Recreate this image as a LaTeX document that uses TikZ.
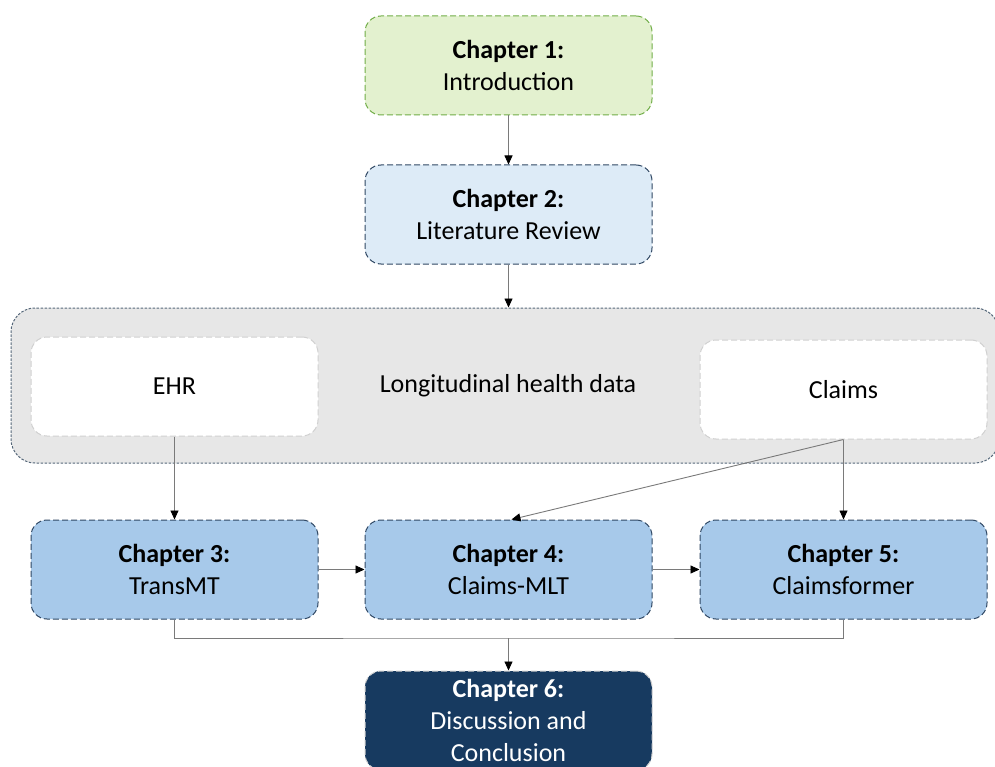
\documentclass[tikz,border=0pt]{standalone}
\usepackage{fontspec}
\setmainfont{Carlito}
\usetikzlibrary{arrows.meta}
\definecolor{greenfill}{HTML}{E3F1CF}
\definecolor{greenline}{HTML}{70AD47}
\definecolor{lightblue}{HTML}{DDEBF7}
\definecolor{midblue}{HTML}{A7C9EA}
\definecolor{navy}{HTML}{173A60}
\definecolor{navyline}{HTML}{2F4763}
\definecolor{grayfill}{HTML}{E7E7E7}
\definecolor{grayline}{HTML}{56687A}
\definecolor{wline}{HTML}{D0D0D0}
\definecolor{conn}{HTML}{7A7A7A}
\tikzset{
  chapbox/.style={rectangle, rounded corners=16pt, minimum width=287pt, minimum height=99pt,
    draw=navyline, line width=1pt, dash pattern=on 6pt off 3pt, align=center,
    font=\fontsize{26}{32}\selectfont, inner sep=0pt},
  srcbox/.style={rectangle, rounded corners=16pt, minimum width=287pt, minimum height=99pt,
    fill=white, draw=wline, line width=1pt, dash pattern=on 6pt off 3pt, align=center,
    font=\fontsize{26}{32}\selectfont, inner sep=0pt},
  conn/.style={draw=conn, line width=0.9pt, -{Triangle[length=9pt,width=8pt,color=black]}},
  plain/.style={draw=conn, line width=0.9pt}
}
\begin{document}
\begin{tikzpicture}[x=1pt,y=-1pt]
\useasboundingbox (0,0) rectangle (995,767);
% container (extends slightly past the right edge, as in the reference)
\node[rectangle, rounded corners=24pt, minimum width=988pt, minimum height=155pt,
  fill=grayfill, draw=grayline, line width=1pt, dash pattern=on 2.5pt off 1.5pt, inner sep=0pt]
  (data) at (505,385.5) {};
\node[font=\fontsize{26}{32}\selectfont] (ldata) at (508,386) {Longitudinal health data};
\node[srcbox] (ehr) at (174.5,386.5) {EHR};
\node[srcbox] (claims) at (843.5,389.5) {Claims};
% chapters
\node[chapbox, fill=greenfill, draw=greenline] (c1) at (508.5,65.5) {\textbf{Chapter 1:}\\Introduction};
\node[chapbox, fill=lightblue] (c2) at (508.5,214.5) {\textbf{Chapter 2:}\\Literature Review};
\node[chapbox, fill=midblue] (c3) at (174.5,569.5) {\textbf{Chapter 3:}\\TransMT};
\node[chapbox, fill=midblue] (c4) at (508.5,569.5) {\textbf{Chapter 4:}\\Claims-MLT};
\node[chapbox, fill=midblue] (c5) at (843.5,569.5) {\textbf{Chapter 5:}\\Claimsformer};
\node[chapbox, fill=navy, draw=wline, text=white] (c6) at (508.5,720.5) {\textbf{Chapter 6:}\\Discussion and\\Conclusion};
% connectors
\draw[conn] (c1.south) -- (c2.north);
\draw[conn] (c2.south) -- (data.north -| c2.south);
\draw[conn] (ehr.south) -- (c3.north);
\draw[conn] (claims.south) -- (c5.north);
\draw[conn] (claims.south) -- ([xshift=3pt]c4.north);
\draw[conn] (c3.east) -- (c4.west);
\draw[conn] (c4.east) -- (c5.west);
\coordinate (join) at (508.5,638);
\draw[plain] (c3.south) |- (join) -| (c5.south);
\draw[conn] (join) -- (c6.north);
\end{tikzpicture}
\end{document}
